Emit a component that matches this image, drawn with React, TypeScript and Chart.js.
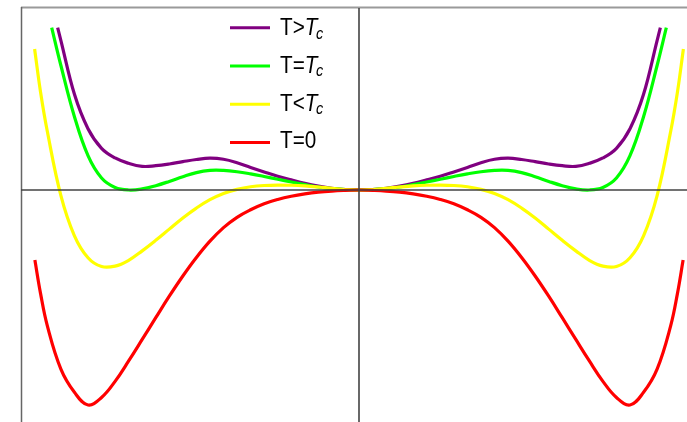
import React, { useEffect, useRef } from 'react';
import { Chart, registerables } from 'chart.js';

Chart.register(...registerables);

// ---- data (order parameter m, free energy F in arbitrary units) ----
const seriesLabels = ['T>Tc', 'T=Tc', 'T<Tc', 'T=0'];
const seriesColors = ['#800080', '#00ff00', '#ffff00', '#ff0000'];

const xPurple = [-1.112, -1.1, -1.05, -1.0, -0.95, -0.9, -0.85, -0.8, -0.75, -0.7, -0.65, -0.6, -0.55, -0.5, -0.45, -0.4, -0.35, -0.3, -0.25, -0.2, -0.15, -0.1, -0.05, 0, 0.05, 0.1, 0.15, 0.2, 0.25, 0.3, 0.35, 0.4, 0.45, 0.5, 0.55, 0.6, 0.65, 0.7, 0.75, 0.8, 0.85, 0.9, 0.95, 1.0, 1.05, 1.1, 1.112];
const yPurple = [0.755, 0.695, 0.445, 0.285, 0.194, 0.149, 0.124, 0.110, 0.113, 0.121, 0.132, 0.142, 0.148, 0.143, 0.127, 0.105, 0.084, 0.064, 0.047, 0.031, 0.018, 0.008, 0.002, 0, 0.002, 0.008, 0.018, 0.031, 0.047, 0.064, 0.084, 0.105, 0.127, 0.143, 0.148, 0.142, 0.132, 0.121, 0.113, 0.110, 0.124, 0.149, 0.194, 0.285, 0.445, 0.695, 0.755];

const xGreen = [-1.134, -1.1, -1.05, -1.0, -0.95, -0.9, -0.85, -0.8, -0.75, -0.7, -0.65, -0.6, -0.55, -0.5, -0.45, -0.4, -0.35, -0.3, -0.25, -0.2, -0.15, -0.1, -0.05, 0, 0.05, 0.1, 0.15, 0.2, 0.25, 0.3, 0.35, 0.4, 0.45, 0.5, 0.55, 0.6, 0.65, 0.7, 0.75, 0.8, 0.85, 0.9, 0.95, 1.0, 1.05, 1.1, 1.134];
const yGreen = [0.755, 0.579, 0.341, 0.160, 0.056, 0.012, 0.000, 0.005, 0.020, 0.040, 0.062, 0.081, 0.091, 0.091, 0.085, 0.075, 0.063, 0.050, 0.037, 0.025, 0.014, 0.006, 0.0015, 0, 0.0015, 0.006, 0.014, 0.025, 0.037, 0.050, 0.063, 0.075, 0.085, 0.091, 0.091, 0.081, 0.062, 0.040, 0.020, 0.005, 0.000, 0.012, 0.056, 0.160, 0.341, 0.579, 0.755];

const xYellow = [-1.197, -1.175, -1.15, -1.1, -1.05, -1.0, -0.95, -0.9, -0.85, -0.8, -0.75, -0.7, -0.65, -0.6, -0.55, -0.5, -0.45, -0.4, -0.35, -0.3, -0.25, -0.2, -0.15, -0.1, -0.05, 0, 0.05, 0.1, 0.15, 0.2, 0.25, 0.3, 0.35, 0.4, 0.45, 0.5, 0.55, 0.6, 0.65, 0.7, 0.75, 0.8, 0.85, 0.9, 0.95, 1.0, 1.05, 1.1, 1.15, 1.175, 1.197];
const yYellow = [0.656, 0.455, 0.272, -0.026, -0.213, -0.315, -0.356, -0.354, -0.327, -0.283, -0.234, -0.182, -0.130, -0.084, -0.045, -0.016, 0.003, 0.015, 0.021, 0.023, 0.022, 0.019, 0.014, 0.008, 0.002, 0, 0.002, 0.008, 0.014, 0.019, 0.022, 0.023, 0.021, 0.015, 0.003, -0.016, -0.045, -0.084, -0.130, -0.182, -0.234, -0.283, -0.327, -0.354, -0.356, -0.315, -0.213, -0.026, 0.272, 0.455, 0.656];

const xRed = [-1.196, -1.175, -1.15, -1.1, -1.05, -1.0, -0.95, -0.9, -0.85, -0.8, -0.75, -0.7, -0.65, -0.6, -0.55, -0.5, -0.45, -0.4, -0.35, -0.3, -0.25, -0.2, -0.15, -0.1, -0.05, 0, 0.05, 0.1, 0.15, 0.2, 0.25, 0.3, 0.35, 0.4, 0.45, 0.5, 0.55, 0.6, 0.65, 0.7, 0.75, 0.8, 0.85, 0.9, 0.95, 1.0, 1.05, 1.1, 1.15, 1.175, 1.196];
const yRed = [-0.326, -0.482, -0.632, -0.833, -0.941, -1.0, -0.965, -0.890, -0.795, -0.695, -0.594, -0.494, -0.400, -0.314, -0.238, -0.175, -0.127, -0.092, -0.064, -0.044, -0.029, -0.018, -0.010, -0.005, -0.002, 0, -0.002, -0.005, -0.010, -0.018, -0.029, -0.044, -0.064, -0.092, -0.127, -0.175, -0.238, -0.314, -0.400, -0.494, -0.594, -0.695, -0.795, -0.890, -0.965, -1.0, -0.941, -0.833, -0.632, -0.482, -0.326];

// legend text pieces: plain prefix, italic symbol, italic subscript
const legendPrefix = ['T>', 'T=', 'T<', 'T=0'];
const legendItalic = ['T', 'T', 'T', ''];
const legendSub = ['c', 'c', 'c', ''];

const xRange = [-1.32472, 1.21033];
const yRange = [-1.07907, 0.88372];

function pts(xs: number[], ys: number[]) {
  return xs.map((x, i) => ({ x, y: ys[i] }));
}

const decorPlugin = {
  id: 'decor',
  afterDatasetsDraw(chart: any) {
    const ctx = chart.ctx;
    const xs = chart.scales.x;
    const ys = chart.scales.y;
    const x0 = xs.getPixelForValue(0);
    const y0 = ys.getPixelForValue(0);
    ctx.save();
    // frame (top and left)
    ctx.strokeStyle = '#9a9a9a';
    ctx.lineWidth = 2;
    ctx.beginPath();
    ctx.moveTo(21, 7.5);
    ctx.lineTo(chart.width, 7.5);
    ctx.stroke();
    ctx.strokeStyle = '#666666';
    ctx.lineWidth = 1.5;
    ctx.beginPath();
    ctx.moveTo(21.5, 7);
    ctx.lineTo(21.5, chart.height);
    ctx.stroke();
    // zero axes
    ctx.strokeStyle = '#444444';
    ctx.lineWidth = 1.6;
    ctx.beginPath();
    ctx.moveTo(x0, 8);
    ctx.lineTo(x0, chart.height);
    ctx.moveTo(21, y0);
    ctx.lineTo(chart.width, y0);
    ctx.stroke();
    ctx.restore();
  },
  afterDraw(chart: any) {
    const ctx = chart.ctx;
    ctx.save();
    const sx = 0.9;
    for (let i = 0; i < seriesLabels.length; i++) {
      const ly = 27.7 + 38.3 * i;
      const by = 35 + 37.8 * i;
      ctx.strokeStyle = seriesColors[i];
      ctx.lineWidth = 3;
      ctx.beginPath();
      ctx.moveTo(230, ly);
      ctx.lineTo(270, ly);
      ctx.stroke();

      ctx.fillStyle = '#000000';
      ctx.textBaseline = 'alphabetic';
      ctx.save();
      ctx.translate(280, by);
      ctx.scale(sx, 1);
      ctx.font = '23px "Liberation Sans", Arial, sans-serif';
      ctx.fillText(legendPrefix[i], 0, 0);
      let w = ctx.measureText(legendPrefix[i]).width;
      if (legendItalic[i]) {
        ctx.font = 'italic 23px "Liberation Sans", Arial, sans-serif';
        ctx.fillText(legendItalic[i], w, 0);
        w += ctx.measureText(legendItalic[i]).width;
      }
      if (legendSub[i]) {
        ctx.font = 'italic 16px "Liberation Sans", Arial, sans-serif';
        ctx.fillText(legendSub[i], w - 1.5, 3.5);
      }
      ctx.restore();
    }
    ctx.restore();
  },
};

export default function App() {
  const ref = useRef<HTMLCanvasElement | null>(null);
  useEffect(() => {
    if (!ref.current) return;
    const series = [
      { xs: xPurple, ys: yPurple, order: 3 },
      { xs: xGreen, ys: yGreen, order: 2 },
      { xs: xYellow, ys: yYellow, order: 1 },
      { xs: xRed, ys: yRed, order: 0 },
    ];
    const chart = new Chart(ref.current, {
      type: 'scatter',
      data: {
        datasets: series.map((s, i) => ({
          label: seriesLabels[i],
          data: pts(s.xs, s.ys),
          showLine: true,
          borderColor: seriesColors[i],
          backgroundColor: seriesColors[i],
          borderWidth: 3.2,
          pointRadius: 0,
          pointHoverRadius: 0,
          tension: 0.4,
          fill: false,
          order: s.order,
        })),
      },
      options: {
        animation: false,
        responsive: false,
        layout: { padding: 0 },
        events: [],
        plugins: {
          legend: { display: false },
          tooltip: { enabled: false },
        },
        scales: {
          x: { type: 'linear', min: xRange[0], max: xRange[1], display: false },
          y: { type: 'linear', min: yRange[0], max: yRange[1], display: false },
        },
      },
      plugins: [decorPlugin],
    } as any);
    return () => chart.destroy();
  }, []);
  return (
    <div style={{ position: 'fixed', left: 0, top: 0, width: 687, height: 422, overflow: 'hidden', background: '#ffffff' }}>
      <canvas ref={ref} width={687} height={422} style={{ display: 'block', width: 687, height: 422 }} />
    </div>
  );
}
